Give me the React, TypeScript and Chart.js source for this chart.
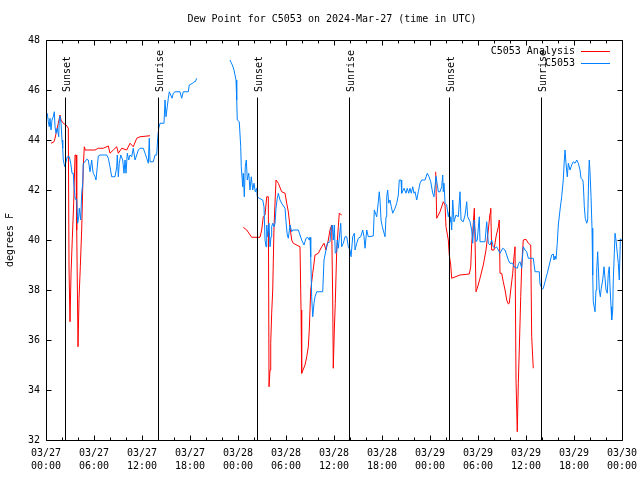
import React, { useEffect, useRef } from "react";
import { Chart, registerables } from "chart.js";

Chart.register(...registerables);

const FONT = '"DejaVu Sans Mono", monospace';
const chartTitle = "Dew Point for C5053 on 2024-Mar-27 (time in UTC)";
const yAxisTitle = "degrees F";
const seriesNames = ["C5053 Analysis", "C5053"];
const seriesColors = ["#ff0000", "#0080ff"];

// x axis: hours since 03/27 00:00 UTC
const xTickDates = ["03/27", "03/27", "03/27", "03/27", "03/28", "03/28", "03/28", "03/28", "03/29", "03/29", "03/29", "03/29", "03/30"];
const xTickTimes = ["00:00", "06:00", "12:00", "18:00", "00:00", "06:00", "12:00", "18:00", "00:00", "06:00", "12:00", "18:00", "00:00"];

const sunLabels = ["Sunset", "Sunrise", "Sunset", "Sunrise", "Sunset", "Sunrise"];
const sunHours = [2.38, 14.0, 26.38, 37.88, 50.38, 61.88];
const sunLineTop = 45.7;

// C5053 Analysis (red): [hour, degF]
const analysis: [number, number | null][] = [
  [0.63, 43.87], [1.0, 43.93], [1.13, 44.07], [1.34, 44.4], [1.54, 44.67], [1.75, 45.0], [1.88, 44.8], [2.16, 44.67], [2.5, 44.6], [2.79, 44.47],
  [2.88, 38.8], [3.0, 36.73], [3.13, 38.67], [3.29, 40.07], [3.46, 41.47], [3.63, 43.4], [3.75, 43.4], [3.84, 40.4], [4.0, 35.73], [4.13, 37.67],
  [4.29, 38.93], [4.46, 40.4], [4.66, 42.93], [4.79, 43.73], [4.91, 43.6], [5.5, 43.6], [6.13, 43.6], [6.54, 43.67], [7.16, 43.67], [7.79, 43.76],
  [8.0, 43.47], [8.41, 43.6], [8.84, 43.73], [9.04, 43.47], [9.46, 43.67], [10.09, 43.6], [10.5, 43.87], [10.91, 43.73], [11.34, 44.07], [11.75, 44.13],
  [13.0, 44.17],
  [18.0, null],
  [24.66, 40.51], [25.09, 40.4], [25.71, 40.11], [26.75, 40.11], [26.96, 40.4], [27.16, 40.93], [27.38, 41.0], [27.59, 41.73], [27.79, 41.73], [27.88, 34.13],
  [28.0, 34.8], [28.09, 35.87], [28.21, 37.07], [28.34, 38.0], [28.5, 40.53], [28.75, 42.4], [29.04, 42.27], [29.46, 41.93], [29.88, 41.87], [30.09, 41.47],
  [30.29, 41.13], [30.5, 40.53], [30.71, 40.0], [30.91, 39.87], [31.75, 39.73], [31.88, 37.2], [31.96, 34.67], [32.38, 35.0], [32.59, 35.33], [32.79, 35.73],
  [32.91, 36.4], [33.09, 38.0], [33.34, 38.67], [33.63, 39.4], [34.04, 39.47], [34.46, 39.73], [34.75, 39.87], [35.0, 39.6], [35.29, 40.0], [35.5, 40.4],
  [35.71, 40.6], [35.84, 37.6], [35.91, 34.87], [36.04, 36.4], [36.16, 37.47], [36.34, 39.6], [36.54, 40.53], [36.66, 41.07], [36.96, 41.0],
  [42.0, null],
  [48.71, 42.73], [48.84, 40.87], [49.25, 41.13], [49.66, 41.53], [49.88, 41.4], [50.0, 40.53], [50.29, 40.0], [50.41, 39.4], [50.59, 39.0], [50.71, 38.47],
  [51.75, 38.6], [52.91, 38.64], [53.09, 38.93], [53.21, 39.87], [53.34, 40.33], [53.54, 41.27], [53.63, 40.0], [53.75, 37.93], [53.91, 38.07], [54.25, 38.47],
  [54.66, 39.0], [55.0, 39.6], [55.29, 40.4], [55.5, 41.07], [55.59, 41.27], [55.71, 39.6], [56.0, 39.6], [56.25, 40.13], [56.54, 40.53], [56.66, 40.8],
  [56.75, 38.67], [56.96, 38.67], [57.16, 38.33], [57.38, 38.0], [57.59, 37.6], [57.79, 37.44], [57.91, 37.47], [58.09, 38.0], [58.34, 38.67], [58.5, 39.33],
  [58.63, 39.73], [58.75, 34.4], [58.91, 32.33], [59.04, 34.27], [59.16, 35.6], [59.34, 37.73], [59.46, 38.93], [59.66, 40.0], [60.0, 40.03], [60.29, 39.87],
  [60.59, 39.8], [60.71, 36.13], [60.91, 34.87],
];

// C5053 station observations (blue): [hour, degF]
const station: [number, number | null][] = [
  [0.16, 45.07], [0.29, 44.73], [0.41, 44.53], [0.5, 44.87], [0.63, 44.4], [0.75, 44.8], [0.91, 44.93], [1.04, 45.13], [1.13, 44.53], [1.25, 44.27],
  [1.41, 44.47], [1.59, 44.13], [1.66, 44.8], [1.75, 44.96], [1.88, 44.67], [2.0, 44.0], [2.09, 43.67], [2.16, 43.2], [2.34, 42.93], [2.5, 43.13],
  [2.66, 43.33], [2.91, 43.33], [3.09, 43.07], [3.25, 42.67], [3.41, 42.67], [3.5, 42.13], [3.66, 41.63], [3.84, 41.63], [3.96, 40.67], [4.09, 40.93],
  [4.16, 41.27], [4.34, 40.8], [4.46, 41.87], [4.59, 42.27], [4.66, 43.07], [4.88, 43.13], [5.09, 43.23], [5.29, 43.2], [5.5, 42.73], [5.71, 43.2],
  [5.84, 42.8], [5.91, 42.67], [6.13, 42.53], [6.25, 42.4], [6.41, 42.93], [6.54, 43.36], [6.75, 43.4], [7.16, 43.4], [7.59, 43.4], [7.79, 43.27],
  [8.0, 42.93], [8.21, 42.53], [8.63, 42.53], [8.84, 42.93], [8.91, 43.4], [9.04, 42.53], [9.16, 43.07], [9.34, 43.4], [9.59, 43.2], [9.75, 42.67],
  [9.88, 43.2], [10.0, 42.67], [10.16, 43.47], [10.34, 43.2], [10.5, 43.4], [10.71, 43.33], [10.91, 43.67], [11.13, 43.2], [11.34, 43.4], [11.54, 43.6],
  [11.75, 43.67], [12.16, 43.67], [12.38, 43.47], [12.59, 43.27], [12.79, 43.07], [12.91, 44.07], [13.0, 43.13], [13.41, 43.13], [13.63, 43.4], [13.84, 43.4],
  [13.96, 44.07], [14.09, 44.47], [14.25, 44.67], [14.75, 44.67], [14.88, 45.6], [15.0, 44.93], [15.16, 45.33], [15.29, 45.67], [15.41, 45.93], [15.59, 45.8],
  [15.75, 45.67], [15.91, 45.87], [16.13, 45.93], [16.75, 45.93], [16.96, 45.67], [17.16, 45.93], [17.79, 45.93], [17.91, 46.2], [18.34, 46.27], [18.5, 46.33],
  [18.66, 46.33], [18.84, 46.47],
  [20.9, null],
  [23.0, 47.2], [23.16, 47.09], [23.34, 46.96], [23.5, 46.8], [23.75, 46.4], [23.84, 45.6], [23.91, 44.8], [24.16, 44.73], [24.34, 43.73], [24.41, 42.93],
  [24.59, 42.13], [24.66, 42.67], [24.79, 41.73], [24.91, 42.93], [25.04, 43.2], [25.16, 42.4], [25.34, 42.67], [25.5, 42.0], [25.66, 42.53], [25.84, 42.0],
  [26.0, 42.27], [26.16, 41.93], [26.34, 42.07], [26.41, 41.73], [26.66, 41.67], [27.09, 41.6], [27.25, 41.33], [27.38, 40.0], [27.5, 39.73], [27.59, 40.6],
  [27.71, 40.13], [27.88, 40.67], [28.0, 39.73], [28.13, 40.13], [28.21, 40.53], [28.34, 40.67], [28.5, 40.53], [28.63, 40.67], [28.75, 41.27], [28.91, 41.67],
  [29.04, 41.87], [29.25, 41.6], [29.46, 41.47], [29.88, 41.27], [30.0, 40.73], [30.16, 40.2], [30.29, 40.07], [30.5, 40.6], [30.71, 40.33], [30.84, 40.4],
  [31.54, 40.4], [31.75, 40.2], [31.96, 40.0], [32.25, 39.8], [32.5, 40.07], [32.71, 40.11], [32.91, 40.0], [33.0, 40.11], [33.09, 39.33], [33.21, 37.73],
  [33.34, 36.93], [33.5, 37.47], [33.63, 37.73], [33.84, 37.93], [34.59, 37.93], [34.75, 39.2], [35.0, 39.6], [35.16, 39.87], [35.5, 39.93], [35.63, 40.47],
  [35.79, 40.6], [35.91, 40.0], [36.04, 40.6], [36.16, 39.47], [36.34, 39.53], [36.41, 40.0], [36.54, 39.67], [36.66, 40.07], [36.84, 40.67], [36.96, 39.73],
  [37.16, 39.87], [37.38, 40.13], [37.59, 40.13], [37.79, 39.73], [38.0, 39.6], [38.13, 39.33], [38.34, 40.13], [38.54, 40.27], [38.63, 39.6], [38.84, 39.87],
  [39.04, 40.07], [39.34, 40.13], [39.59, 40.4], [39.75, 40.13], [39.88, 39.67], [40.09, 40.4], [40.29, 40.13], [40.91, 40.16], [41.04, 41.2], [41.34, 40.93],
  [41.54, 41.53], [41.66, 41.93], [41.75, 41.6], [41.88, 40.8], [42.04, 40.53], [42.38, 40.13], [42.5, 40.93], [42.59, 41.73], [42.71, 42.0], [42.84, 41.47],
  [43.0, 41.6], [43.16, 41.33], [43.34, 41.07], [43.63, 41.27], [43.84, 41.47], [44.04, 41.8], [44.16, 42.4], [44.38, 42.4], [44.46, 41.87], [44.75, 42.07],
  [45.0, 41.87], [45.16, 42.07], [45.34, 41.87], [45.5, 42.07], [45.66, 41.87], [45.84, 42.13], [46.0, 41.87], [46.13, 41.93], [46.34, 41.6], [46.54, 41.93],
  [46.75, 42.27], [46.96, 42.4], [47.38, 42.4], [47.66, 42.67], [47.88, 42.53], [48.09, 42.33], [48.34, 41.87], [48.5, 41.73], [48.75, 42.55], [49.04, 41.93],
  [49.25, 41.93], [49.46, 42.13], [49.59, 42.6], [49.66, 41.93], [49.75, 42.27], [49.88, 41.47], [50.09, 41.4], [50.29, 40.93], [50.41, 41.13], [50.5, 40.73],
  [50.59, 40.93], [50.71, 40.4], [50.84, 41.6], [51.0, 40.73], [51.25, 41.0], [51.54, 40.93], [51.75, 41.93], [51.88, 40.8], [52.16, 40.73], [52.38, 41.0],
  [52.59, 41.53], [52.71, 40.93], [53.0, 40.73], [53.21, 40.4], [53.34, 39.87], [53.5, 40.8], [53.63, 40.4], [53.75, 39.93], [53.91, 40.0], [54.16, 40.93],
  [54.25, 39.93], [54.88, 39.93], [55.09, 40.73], [55.29, 39.87], [55.5, 39.8], [55.71, 40.0], [55.91, 39.73], [56.13, 39.67], [56.34, 39.73], [56.75, 39.47],
  [57.09, 39.67], [57.38, 39.6], [57.59, 39.4], [57.79, 39.2], [58.0, 39.07], [58.34, 39.07], [58.5, 38.93], [58.91, 38.87], [59.09, 39.07], [59.25, 39.13],
  [59.46, 38.87], [59.66, 39.73], [59.88, 39.6], [60.09, 39.53], [60.29, 39.27], [60.91, 39.27], [61.13, 38.73], [61.66, 38.73], [61.75, 38.24], [62.04, 38.03],
  [62.16, 38.07], [62.38, 38.33], [62.66, 38.67], [62.91, 39.0], [63.21, 39.4], [63.41, 39.44], [63.5, 39.2], [63.63, 39.36], [63.75, 39.23], [63.91, 39.87],
  [64.04, 40.6], [64.25, 41.2], [64.46, 41.73], [64.66, 42.4], [64.79, 43.2], [64.88, 43.6], [65.0, 43.07], [65.16, 42.53], [65.29, 43.07], [65.5, 42.8],
  [65.71, 43.0], [65.91, 43.13], [66.13, 43.07], [66.34, 43.2], [66.54, 43.07], [66.75, 42.8], [66.88, 42.47], [67.09, 42.4], [67.16, 42.27], [67.29, 41.33],
  [67.41, 40.87], [67.59, 40.67], [67.71, 40.8], [67.84, 42.6], [67.91, 43.2], [68.0, 42.73], [68.13, 41.73], [68.25, 40.47], [68.34, 38.6], [68.41, 37.53],
  [68.63, 37.13], [68.75, 38.0], [68.84, 38.8], [68.96, 39.53], [69.04, 38.93], [69.16, 38.0], [69.29, 37.73], [69.41, 38.07], [69.59, 38.4], [69.75, 38.93],
  [69.88, 38.47], [70.0, 38.0], [70.16, 37.87], [70.29, 38.67], [70.41, 38.93], [70.5, 38.13], [70.63, 37.33], [70.71, 36.8], [70.84, 37.2], [70.91, 38.4],
  [71.04, 39.47], [71.13, 40.27], [71.25, 40.0], [71.41, 39.47], [71.54, 39.07], [71.66, 38.4], [71.8, 40.05], [71.95, 40.0],
];

const X_MIN = 0, X_MAX = 72, X_MAJOR = 6, X_MINOR = 2;
const Y_MIN = 32, Y_MAX = 48, Y_STEP = 2;

const crisp = (v: number) => Math.floor(v) + 0.5;

const overlayPlugin = {
  id: "gnuplotOverlay",
  afterDatasetsDraw(chart: any) {
    const { ctx, chartArea: a, scales } = chart;
    const xs = scales.x;
    const ys = scales.y;
    const L = crisp(a.left), R = crisp(a.right), T = crisp(a.top), B = crisp(a.bottom);
    ctx.save();
    ctx.strokeStyle = "#000";
    ctx.lineWidth = 1;
    ctx.beginPath();
    // frame
    ctx.moveTo(L, T); ctx.lineTo(R, T); ctx.lineTo(R, B); ctx.lineTo(L, B); ctx.closePath();
    // x ticks (inward, bottom and top)
    for (let h = X_MIN; h <= X_MAX; h += X_MINOR) {
      const px = crisp(xs.getPixelForValue(h));
      const len = h % X_MAJOR === 0 ? 5 : 3;
      ctx.moveTo(px, B); ctx.lineTo(px, B - len);
      ctx.moveTo(px, T); ctx.lineTo(px, T + len);
    }
    // y ticks (inward, left and right)
    for (let v = Y_MIN; v <= Y_MAX; v += Y_STEP) {
      const py = crisp(ys.getPixelForValue(v));
      ctx.moveTo(L, py); ctx.lineTo(L + 5, py);
      ctx.moveTo(R, py); ctx.lineTo(R - 5, py);
    }
    // sunrise / sunset lines
    const topY = ys.getPixelForValue(sunLineTop);
    sunHours.forEach((h) => {
      const px = crisp(xs.getPixelForValue(h));
      ctx.moveTo(px, B); ctx.lineTo(px, topY);
    });
    ctx.stroke();

    ctx.fillStyle = "#000";
    ctx.font = `10px ${FONT}`;
    // sun labels
    sunHours.forEach((h, i) => {
      const px = crisp(xs.getPixelForValue(h));
      ctx.save();
      ctx.translate(px + 1.5, topY - 5.5);
      ctx.rotate(-Math.PI / 2);
      ctx.textAlign = "left";
      ctx.textBaseline = "middle";
      ctx.fillText(sunLabels[i], 0, 0);
      ctx.restore();
    });

    // legend
    ctx.textAlign = "right";
    ctx.textBaseline = "middle";
    seriesNames.forEach((name, i) => {
      const y = a.top + 11 + i * 12;
      ctx.fillStyle = "#000";
      ctx.fillText(name, a.right - 47, y);
      ctx.strokeStyle = seriesColors[i];
      ctx.beginPath();
      ctx.moveTo(a.right - 41, crisp(y));
      ctx.lineTo(a.right - 12, crisp(y));
      ctx.stroke();
    });

    // title
    ctx.fillStyle = "#000";
    ctx.textAlign = "center";
    ctx.textBaseline = "middle";
    ctx.fillText(chartTitle, (a.left + a.right) / 2 - 2, 19);

    // y title
    ctx.save();
    ctx.translate(10, (a.top + a.bottom) / 2);
    ctx.rotate(-Math.PI / 2);
    ctx.textAlign = "center";
    ctx.textBaseline = "middle";
    ctx.fillText(yAxisTitle, 0, 0);
    ctx.restore();

    ctx.restore();
  },
};

export default function App() {
  const canvasRef = useRef<HTMLCanvasElement | null>(null);

  useEffect(() => {
    const canvas = canvasRef.current;
    if (!canvas) return;
    const toPoints = (arr: [number, number | null][]) => arr.map(([x, y]) => ({ x, y }));
    const chart = new Chart(canvas, {
      type: "line",
      data: {
        datasets: [
          {
            label: seriesNames[0],
            data: toPoints(analysis) as any,
            borderColor: seriesColors[0],
            borderWidth: 1,
            pointRadius: 0,
            tension: 0,
            spanGaps: false,
            fill: false,
            order: 2,
          },
          {
            label: seriesNames[1],
            data: toPoints(station) as any,
            borderColor: seriesColors[1],
            borderWidth: 1,
            pointRadius: 0,
            tension: 0,
            spanGaps: false,
            fill: false,
            order: 1,
          },
        ],
      },
      options: {
        animation: false,
        responsive: false,
        devicePixelRatio: 1,
        layout: { padding: { top: 40, right: 18, bottom: 0, left: 0 } },
        plugins: {
          legend: { display: false },
          tooltip: { enabled: false },
          title: { display: false },
        },
        scales: {
          x: {
            type: "linear",
            min: X_MIN,
            max: X_MAX,
            grid: { display: false, drawTicks: false },
            border: { display: false },
            ticks: {
              stepSize: X_MAJOR,
              autoSkip: false,
              maxRotation: 0,
              minRotation: 0,
              padding: 7,
              color: "#000",
              font: { family: FONT, size: 10, lineHeight: 1.3 },
              callback: (value: any) => {
                const i = Math.round(Number(value) / X_MAJOR);
                return [xTickDates[i], xTickTimes[i]];
              },
            },
            afterFit: (scale: any) => {
              scale.height = 40;
              scale.paddingLeft = 0;
              scale.paddingRight = 0;
            },
          },
          y: {
            type: "linear",
            min: Y_MIN,
            max: Y_MAX,
            grid: { display: false, drawTicks: false },
            border: { display: false },
            ticks: {
              stepSize: Y_STEP,
              padding: 6,
              color: "#000",
              font: { family: FONT, size: 10 },
            },
            afterFit: (scale: any) => {
              scale.width = 46;
              scale.paddingTop = 0;
              scale.paddingBottom = 0;
            },
          },
        },
      },
      plugins: [overlayPlugin],
    });
    return () => chart.destroy();
  }, []);

  return (
    <div style={{ position: "fixed", left: 0, top: 0, width: 640, height: 480, background: "#fff" }}>
      <canvas ref={canvasRef} width={640} height={480} />
    </div>
  );
}
